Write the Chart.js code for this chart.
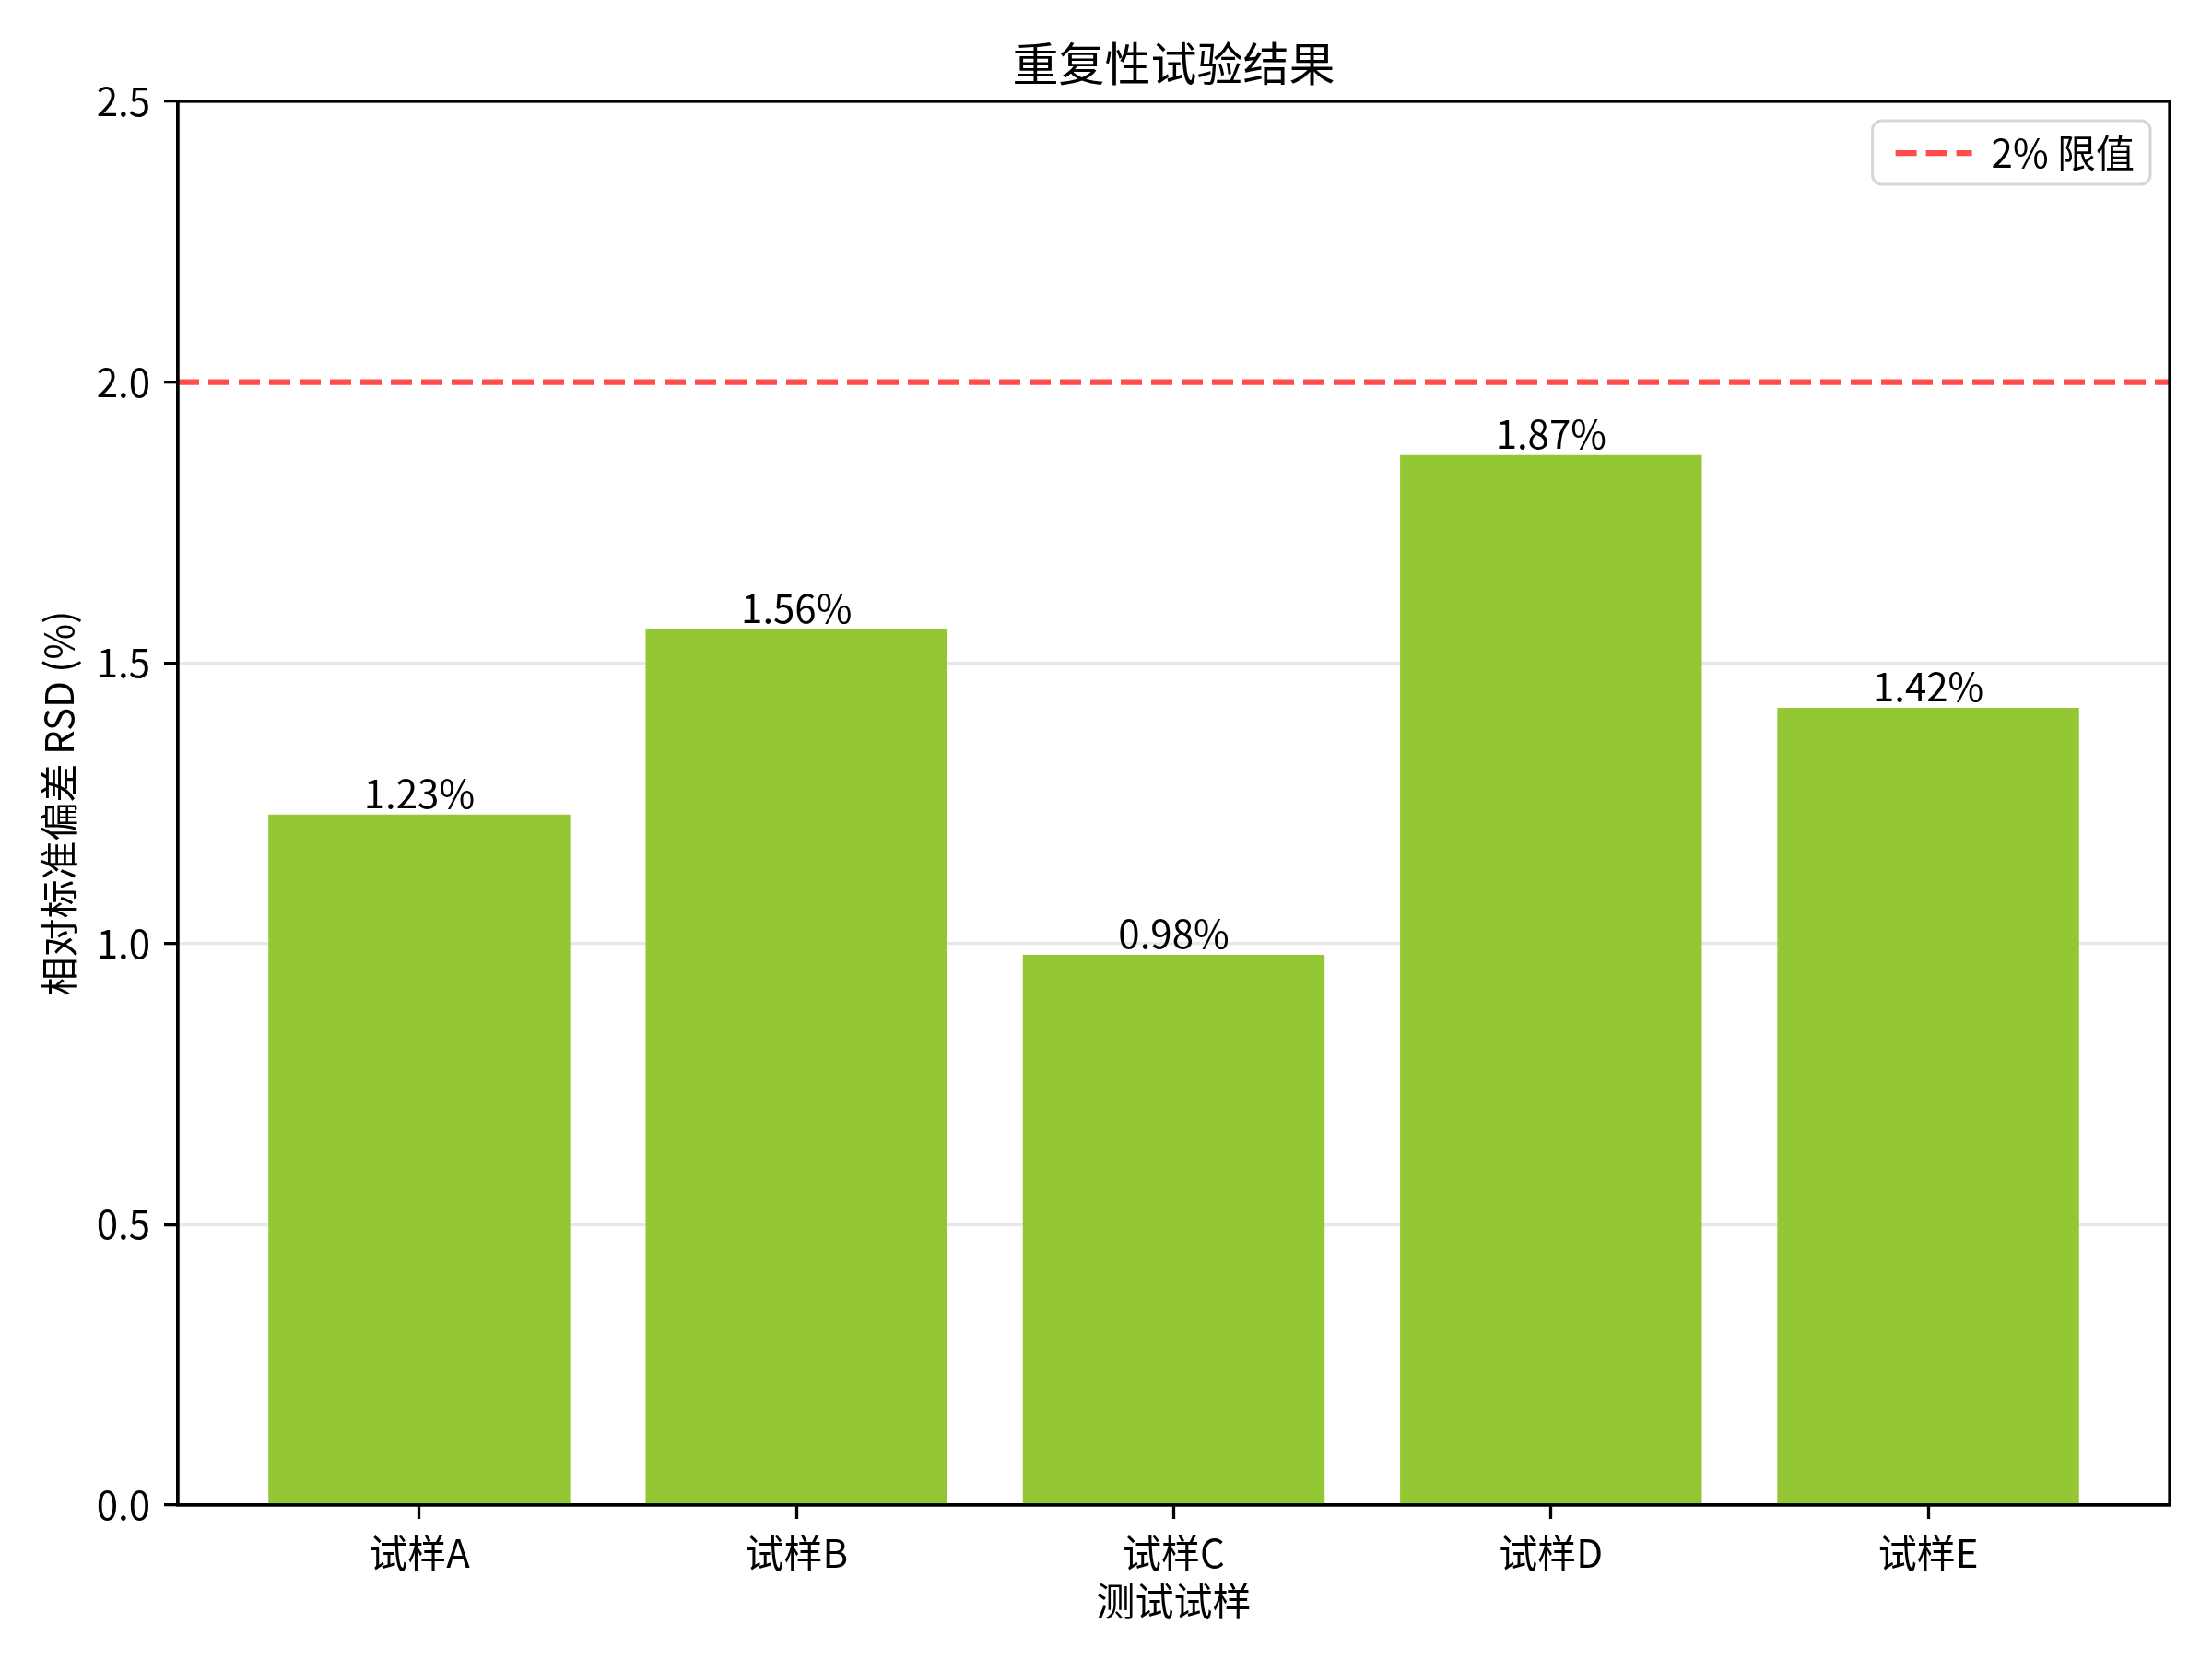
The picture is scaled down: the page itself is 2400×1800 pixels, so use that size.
<!DOCTYPE html>
<html lang="zh-CN">
<head>
<meta charset="utf-8">
<title>重复性试验结果</title>
<script src="https://cdn.jsdelivr.net/npm/chart.js@4.4.1/dist/chart.umd.min.js"></script>
<style>
  html, body { margin: 0; padding: 0; background: #ffffff; }
  #wrap { width: 2400px; height: 1800px; }
</style>
</head>
<body>
<div id="wrap"><canvas id="chart" width="2400" height="1800"></canvas></div>
<script>
// Samples and their relative standard deviation (%)
const categories = ['试样A', '试样B', '试样C', '试样D', '试样E'];
const rsdValues = [1.23, 1.56, 0.98, 1.87, 1.42];
// Acceptance limit
const limitValue = 2.0;
const limitLabel = '2% 限值';
// Value axis ticks
const yTicks = [0.0, 0.5, 1.0, 1.5, 2.0, 2.5];

const FONT = '"Noto Sans CJK SC", "Noto Sans", sans-serif';
const BAR_COLOR = '#93c734';
const LIMIT_COLOR = 'rgba(255, 0, 0, 0.7)';
const AXIS_LW = 3.3;
const LEGEND_PAD = 20;

// Category positions run 0..n-1, with a 5% margin around the bar extents
const halfBar = 0.4;
const xPad = (categories.length - 1 + 2 * halfBar) * 0.05;
const xMin = -halfBar - xPad;
const xMax = categories.length - 1 + halfBar + xPad;

const barData = categories.map((c, i) => ({ x: i, y: rsdValues[i] }));
const limitData = [{ x: xMin, y: limitValue }, { x: xMax, y: limitValue }];

// Value labels above each bar
const barLabels = {
  id: 'barLabels',
  afterDraw(chart) {
    const meta = chart.getDatasetMeta(0);
    const ctx = chart.ctx;
    ctx.save();
    ctx.font = '42px ' + FONT;
    ctx.fillStyle = '#000';
    ctx.textAlign = 'center';
    ctx.textBaseline = 'alphabetic';
    meta.data.forEach((el, i) => {
      ctx.fillText(rsdValues[i].toFixed(2) + '%', el.x, el.y - 7);
    });
    ctx.restore();
  }
};

// Place the legend in the upper right corner inside the plot area
const legendCorner = {
  id: 'legendCorner',
  afterLayout(chart) {
    const lg = chart.legend;
    const a = chart.chartArea;
    if (!lg || !lg.legendHitBoxes || !lg.legendHitBoxes.length) return;
    const w = lg.legendHitBoxes[0].width;
    lg.left = a.right - 38 - w - LEGEND_PAD;
    lg.top = a.top + 35 - LEGEND_PAD;
  }
};

// Full box frame around the plot area plus the legend frame
const frames = {
  id: 'frames',
  afterDraw(chart) {
    const { ctx, chartArea: a } = chart;
    ctx.save();
    ctx.strokeStyle = '#000';
    ctx.lineWidth = AXIS_LW;
    ctx.setLineDash([]);
    ctx.strokeRect(a.left, a.top, a.right - a.left, a.bottom - a.top);
    const hb = chart.legend && chart.legend.legendHitBoxes && chart.legend.legendHitBoxes[0];
    if (hb) {
      const l = hb.left - 25, r = a.right - 21;
      const t = a.top + 21, b = t + 69;
      ctx.strokeStyle = '#d6d6d6';
      ctx.lineWidth = 3;
      ctx.beginPath();
      ctx.roundRect(l, t, r - l, b - t, 10);
      ctx.stroke();
    }
    ctx.restore();
  }
};

new Chart(document.getElementById('chart'), {
  data: {
    datasets: [
      {
        type: 'bar',
        label: 'RSD',
        data: barData,
        backgroundColor: BAR_COLOR,
        borderWidth: 0,
        barPercentage: 0.8,
        categoryPercentage: 1.0
      },
      {
        type: 'line',
        label: limitLabel,
        data: limitData,
        borderColor: LIMIT_COLOR,
        backgroundColor: LIMIT_COLOR,
        borderWidth: 6.25,
        borderDash: [23, 10],
        pointRadius: 0,
        pointStyle: 'line',
        fill: false,
        tension: 0
      }
    ]
  },
  options: {
    responsive: false,
    animation: false,
    devicePixelRatio: 1,
    layout: { padding: { left: 0, right: 46, top: 0, bottom: 0 } },
    plugins: {
      title: {
        display: true,
        text: '重复性试验结果',
        fullSize: false,
        color: '#000',
        font: { family: FONT, size: 50, weight: 'normal', lineHeight: 1.2 },
        padding: { top: 39, bottom: 11 }
      },
      legend: {
        display: true,
        position: 'chartArea',
        align: 'start',
        labels: {
          usePointStyle: true,
          pointStyleWidth: 83,
          boxHeight: 42,
          padding: LEGEND_PAD,
          color: '#000',
          font: { family: FONT, size: 42 },
          generateLabels(chart) {
            const base = Chart.defaults.plugins.legend.labels.generateLabels(chart);
            return base
              .filter(item => chart.data.datasets[item.datasetIndex].type === 'line')
              .map(item => {
                const ds = chart.data.datasets[item.datasetIndex];
                return Object.assign({}, item, {
                  pointStyle: 'line',
                  strokeStyle: ds.borderColor,
                  lineWidth: ds.borderWidth,
                  lineDash: ds.borderDash,
                  fontColor: '#000'
                });
              });
          }
        }
      },
      tooltip: { enabled: false }
    },
    scales: {
      x: {
        type: 'linear',
        min: xMin,
        max: xMax,
        offset: false,
        z: 1,
        afterFit(scale) { scale.height = 167; },
        afterBuildTicks(scale) { scale.ticks = categories.map((c, i) => ({ value: i })); },
        grid: {
          offset: false,
          drawOnChartArea: false,
          drawTicks: true,
          tickLength: 15,
          tickColor: '#000',
          tickWidth: AXIS_LW
        },
        border: { display: true, color: '#000', width: AXIS_LW },
        ticks: {
          autoSkip: false,
          maxRotation: 0,
          padding: 12,
          color: '#000',
          font: { family: FONT, size: 42 },
          callback: (v) => categories[v]
        },
        title: {
          display: true,
          text: '测试试样',
          color: '#000',
          font: { family: FONT, size: 42, lineHeight: 1.2 },
          padding: { top: 0, bottom: 38 }
        }
      },
      y: {
        type: 'linear',
        min: yTicks[0],
        max: yTicks[yTicks.length - 1],
        z: 1,
        afterFit(scale) { scale.width = 193; },
        afterBuildTicks(scale) { scale.ticks = yTicks.map(v => ({ value: v })); },
        grid: {
          drawOnChartArea: true,
          color: (ctx) => {
            const v = ctx.tick && ctx.tick.value;
            if (v === yTicks[0] || v === yTicks[yTicks.length - 1] || v === limitValue) return 'rgba(0,0,0,0)';
            return 'rgba(176,176,176,0.3)';
          },
          lineWidth: 3.3,
          drawTicks: true,
          tickLength: 15,
          tickColor: '#000',
          tickWidth: AXIS_LW
        },
        border: { display: true, color: '#000', width: AXIS_LW },
        ticks: {
          padding: 15,
          color: '#000',
          font: { family: FONT, size: 42 },
          callback: (v) => Number(v).toFixed(1)
        },
        title: {
          display: true,
          text: '相对标准偏差 RSD (%)',
          color: '#000',
          font: { family: FONT, size: 42, lineHeight: 1.2 },
          padding: { top: 39, bottom: 0 }
        }
      }
    }
  },
  plugins: [legendCorner, barLabels, frames]
});
</script>
</body>
</html>
